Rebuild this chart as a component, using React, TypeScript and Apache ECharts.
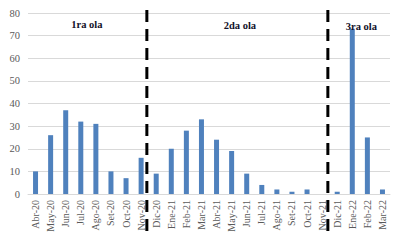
import React, { useEffect, useRef } from "react";
import * as echarts from "echarts";

const categories = [
  "Abr-20", "May-20", "Jun-20", "Jul-20", "Ago-20", "Set-20", "Oct-20", "Nov-20",
  "Dic-20", "Ene-21", "Feb-21", "Mar-21", "Abr-21", "May-21", "Jun-21", "Jul-21",
  "Ago-21", "Set-21", "Oct-21", "Nov-21", "Dic-21", "Ene-22", "Feb-22", "Mar-22",
];
const values = [10, 26, 37, 32, 31, 10, 7, 16, 9, 20, 28, 33, 24, 19, 9, 4, 2, 1, 2, 0, 1, 73, 25, 2];
const waveLabels = ["1ra ola", "2da ola", "3ra ola"];
// dashed separators sit after these category indices (fraction toward next)
const separatorAfter = [7, 19];
// wave label anchor positions in category units (boundary index)
const waveLabelPos = [3.9, 14.05, 22.1];

export default function App() {
  const ref = useRef<HTMLDivElement>(null);
  useEffect(() => {
    if (!ref.current) return;
    const chart = echarts.init(ref.current, null, { renderer: "svg" });
    const font = "'Liberation Serif', 'Times New Roman', serif";
    chart.setOption({
      animation: false,
      grid: { left: 28, right: 9, top: 13, bottom: 50, containLabel: false },
      xAxis: {
        type: "category",
        data: categories,
        axisLine: { show: true, lineStyle: { color: "#d9d9d9", width: 1 } },
        axisTick: { show: false },
        axisLabel: {
          rotate: 90,
          interval: 0,
          margin: 6,
          color: "#595959",
          fontFamily: font,
          fontSize: 10,
        },
      },
      yAxis: {
        type: "value",
        min: 0,
        max: 80,
        interval: 10,
        axisLine: { show: false },
        axisTick: { show: false },
        splitLine: { lineStyle: { color: "#d9d9d9", width: 1 } },
        axisLabel: { color: "#595959", fontFamily: font, fontSize: 10.5, margin: 8 },
      },
      series: [
        {
          type: "bar",
          data: values,
          barWidth: 5,
          itemStyle: { color: "#4f81bd" },
        },
      ],
    });

    const catPx = (f: number) => {
      const i = Math.floor(f);
      const frac = f - i;
      const a = chart.convertToPixel({ xAxisIndex: 0 }, categories[Math.min(i, categories.length - 1)]) as number;
      const b = chart.convertToPixel({ xAxisIndex: 0 }, categories[Math.min(i + 1, categories.length - 1)]) as number;
      return a + (b - a) * frac;
    };
    const yTop = 10;
    const yBottom = 232;
    const elements: any[] = [];
    separatorAfter.forEach((idx) => {
      const x = catPx(idx + 0.38);
      elements.push({
        type: "line",
        shape: { x1: x, y1: yTop, x2: x, y2: yBottom },
        style: { stroke: "#000000", lineWidth: 3, lineDash: [12, 7] },
        z: 100,
      });
    });
    waveLabels.forEach((t, k) => {
      const x = catPx(waveLabelPos[k] - 0.5);
      elements.push({
        type: "text",
        x,
        y: 24 + k,
        style: {
          text: t,
          fill: "#111128",
          font: `bold 10.5px ${font}`,
          align: "center",
          verticalAlign: "middle",
        },
        z: 101,
      });
    });
    chart.setOption({ graphic: elements });

    return () => chart.dispose();
  }, []);
  return <div ref={ref} style={{ width: 399, height: 244, position: "absolute", left: 0, top: 0 }} />;
}
